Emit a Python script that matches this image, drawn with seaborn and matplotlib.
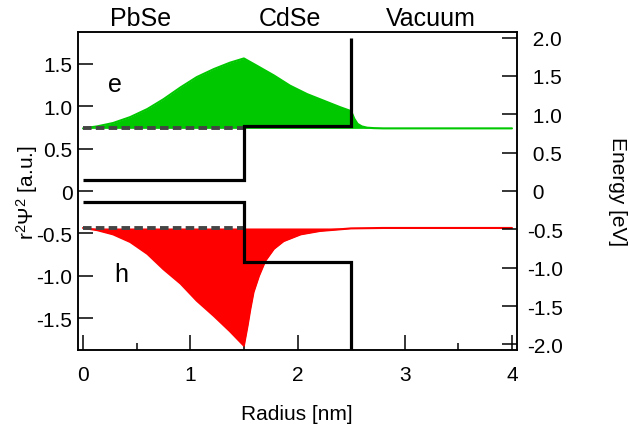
import numpy as np
import matplotlib
matplotlib.use('Agg')
import matplotlib.pyplot as plt
import matplotlib.transforms as mtransforms
import seaborn as sns

# wavefunctions r^2 psi^2 (left axis, a.u.), offset to their levels
r_e = [0, 0.13, 0.28, 0.44, 0.60, 0.75, 0.91, 1.06, 1.22, 1.37, 1.5,
       1.62, 1.78, 1.93, 2.09, 2.25, 2.40, 2.5,
       2.53, 2.56, 2.60, 2.65, 2.71, 2.8, 4.0]
psi_e = [0.737, 0.76, 0.80, 0.87, 0.965, 1.08, 1.22, 1.34, 1.435, 1.51, 1.56,
         1.475, 1.36, 1.24, 1.14, 1.06, 0.985, 0.94,
         0.85, 0.79, 0.76, 0.745, 0.74, 0.737, 0.737]
e_level = 0.737

r_h = [0, 0.13, 0.28, 0.44, 0.60, 0.75, 0.91, 1.06, 1.22, 1.37, 1.5,
       1.535, 1.56, 1.59, 1.64, 1.70, 1.78, 1.87, 2.03, 2.21, 2.5, 2.8, 4.0]
psi_h = [-0.435, -0.46, -0.51, -0.60, -0.74, -0.92, -1.09, -1.29, -1.47, -1.65, -1.82,
         -1.58, -1.39, -1.19, -1.0, -0.82, -0.68, -0.59, -0.51, -0.47, -0.44, -0.435, -0.435]
h_level = -0.435

# band edges (right axis, eV)
cb_r = [0, 1.5, 1.5, 2.5, 2.5]
cb_e = [0.14, 0.14, 0.85, 0.85, 2.0]
vb_r = [0, 1.5, 1.5, 2.5, 2.5]
vb_e = [-0.14, -0.14, -0.92, -0.92, -2.1]

level_r = [0, 1.5]

left_ticks = [-1.5, -1.0, -0.5, 0, 0.5, 1.0, 1.5]
left_labels = ['-1.5', '-1.0', '-0.5', '0', '0.5', '1.0', '1.5']
right_ticks = [-2.0, -1.5, -1.0, -0.5, 0, 0.5, 1.0, 1.5, 2.0]
right_labels = ['-2.0', '-1.5', '-1.0', '-0.5', ' 0', ' 0.5', ' 1.0', ' 1.5', ' 2.0']
x_ticks = [0, 1, 2, 3, 4]
x_minor = [0.5, 1.5, 2.5, 3.5]

regions = ['PbSe', 'CdSe', 'Vacuum']
region_x = [0.54, 1.93, 3.24]

sns.set_style('ticks')
plt.rcParams['font.family'] = ['Liberation Sans', 'DejaVu Sans']
plt.rcParams['mathtext.fontset'] = 'custom'
plt.rcParams['mathtext.rm'] = 'Liberation Sans'
plt.rcParams['mathtext.it'] = 'Liberation Sans:italic'
plt.rcParams['axes.unicode_minus'] = False
for key in ['text.color', 'axes.labelcolor', 'xtick.color', 'ytick.color', 'axes.edgecolor']:
    plt.rcParams[key] = 'black'

green = '#00c800'
red = '#ff0000'

fig = plt.figure(figsize=(6.29, 4.35), dpi=100)
ax = fig.add_axes([78/629, 84/435, 439/629, 318/435])

ax.fill_between(r_e, e_level, psi_e, color=green, lw=0, zorder=1)
ax.fill_between(r_h, h_level, psi_h, color=red, lw=0, zorder=1)
sns.lineplot(x=r_e, y=psi_e, ax=ax, color=green, lw=1.5, sort=False, estimator=None)
sns.lineplot(x=r_h, y=psi_h, ax=ax, color=red, lw=1.5, sort=False, estimator=None)
for level in (e_level, h_level):
    ax.plot(level_r, [level, level], color='#444444', lw=2.8, dashes=(2.2, 1.1),
            dash_capstyle='butt', zorder=5)

ax.set_xlim(-0.047, 4.047)
ax.set_ylim(-1.871, 1.871)
ax.set_xticks(x_ticks)
ax.set_xticks(x_minor, minor=True)
ax.set_yticks(left_ticks)
ax.set_yticklabels(left_labels)
ax.tick_params(axis='y', direction='in', length=11, width=1.1, labelsize=15,
               pad=4, colors='black', right=False)
ax.tick_params(axis='x', which='major', direction='in', length=11, width=1.1,
               labelsize=15, pad=11, top=False, colors='black')
ax.tick_params(axis='x', which='minor', direction='in', length=5, width=1.1, top=False,
               colors='black')
ax.set_xlabel('')
ax.set_ylabel('')

ax2 = ax.twinx()
sns.lineplot(x=cb_r, y=cb_e, ax=ax2, color='black', lw=2.3, sort=False, estimator=None)
sns.lineplot(x=vb_r, y=vb_e, ax=ax2, color='black', lw=2.3, sort=False, estimator=None)
for ln in ax2.lines:
    ln.set_solid_joinstyle('miter')
    ln.set_solid_capstyle('butt')
ax2.set_ylim(-2.073, 2.073)
ax2.set_yticks(right_ticks)
ax2.set_yticklabels(right_labels)
ax2.tick_params(axis='y', direction='in', length=11, width=1.1, labelsize=15, pad=7,
                colors='black')
for label in ax2.get_yticklabels():
    label.set_horizontalalignment('left')
ax2.set_ylabel('')

for a in (ax, ax2):
    for sp in a.spines.values():
        sp.set_visible(True)
        sp.set_linewidth(1.1)
        sp.set_color('black')

trans = mtransforms.blended_transform_factory(ax.transData, ax.transAxes)
for name, xpos in zip(regions, region_x):
    ax.text(xpos, 1.022, name, transform=trans, ha='center', va='baseline', fontsize=18)

ax.text(0.30, 1.26, 'e', ha='center', va='center', fontsize=18)
ax.text(0.36, -0.98, 'h', ha='center', va='center', fontsize=18)

fig.text(27/629, 1 - 193/435, 'r$^2$Ψ$^2$ [a.u.]', rotation=90, ha='center', va='center', fontsize=15)
fig.text(617/629, 1 - 192/435, 'Energy [eV]', rotation=270, ha='center', va='center', fontsize=15)
fig.text(297/629, 1 - 415/435, 'Radius [nm]', ha='center', va='center', fontsize=15)

fig.savefig('out.png', dpi=100)
